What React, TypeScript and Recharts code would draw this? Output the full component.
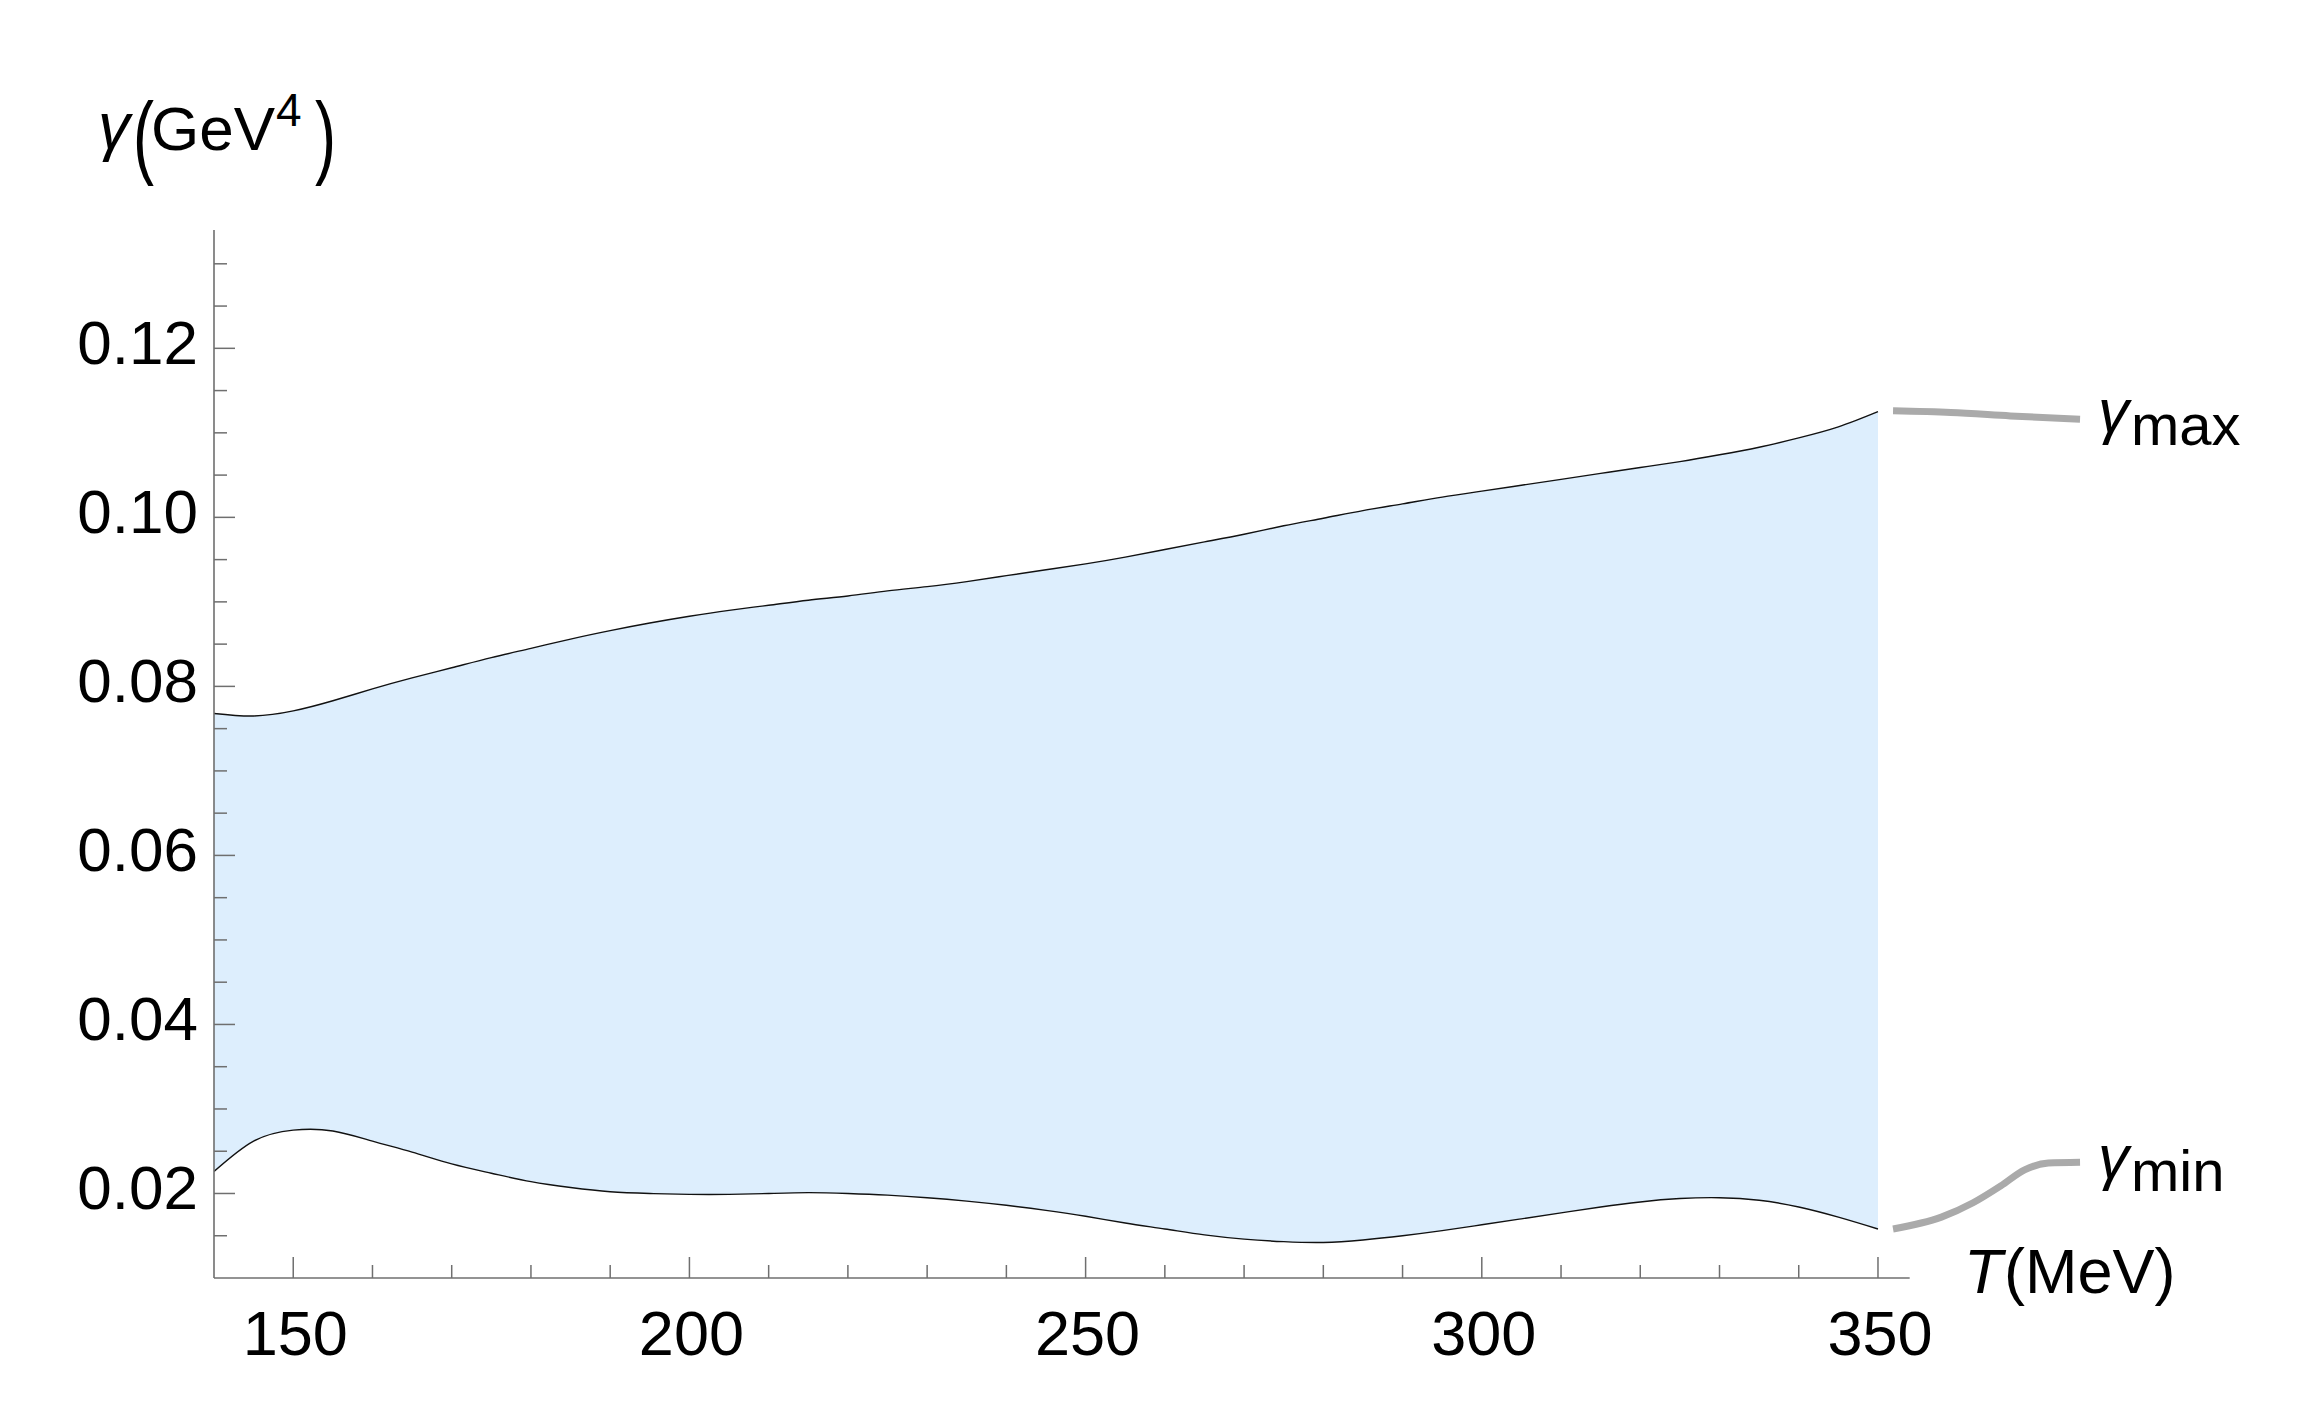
import React from "react";
import { ComposedChart, Area, Line, XAxis, YAxis, ReferenceLine } from "recharts";

// T in MeV
const temps = [
  140, 145, 150, 155, 160, 165, 170, 175, 180, 185, 190, 195, 200, 205, 210, 215, 220, 225, 230, 235, 240,
  245, 250, 255, 260, 265, 270, 275, 280, 285, 290, 295, 300, 305, 310, 315, 320, 325, 330, 335, 340, 345, 350,
];
// gamma (GeV^4), lower edge of the band
const gammaMin = [
  0.0226, 0.0262, 0.0275, 0.0274, 0.0262, 0.0249, 0.0235, 0.0224, 0.0214, 0.0207, 0.0202, 0.02, 0.0199,
  0.0199, 0.02, 0.0201, 0.02, 0.0198, 0.0195, 0.0191, 0.0186, 0.018, 0.0173, 0.0165, 0.0158, 0.0151, 0.0146,
  0.0143, 0.0142, 0.0145, 0.015, 0.0156, 0.0163, 0.017, 0.0177, 0.0184, 0.019, 0.0194, 0.0195, 0.0192, 0.0184,
  0.0172, 0.0158,
];
// upper edge of the band
const gammaMax = [
  0.0768, 0.0765, 0.0771, 0.0783, 0.0797, 0.081, 0.0822, 0.0834, 0.0845, 0.0856, 0.0866, 0.0875, 0.0883,
  0.089, 0.0896, 0.0902, 0.0907, 0.0913, 0.0918, 0.0924, 0.0931, 0.0938, 0.0945, 0.0953, 0.0962, 0.0971,
  0.098, 0.099, 0.0999, 0.1008, 0.1016, 0.1024, 0.1031, 0.1038, 0.1045, 0.1052, 0.1059, 0.1066, 0.1074,
  0.1083, 0.1094, 0.1107, 0.1125,
];

// label leaders (gray)
const leadMaxT = [351.9, 359.2, 366.7, 375.5];
const leadMaxY = [0.1126, 0.1124, 0.112, 0.1116];
const leadMinT = [351.9, 358, 362, 365.5, 368.5, 371.5, 375.5];
const leadMinY = [0.0158, 0.0172, 0.0189, 0.0209, 0.0228, 0.0236, 0.0237];

const xTicks = [150, 160, 170, 180, 190, 200, 210, 220, 230, 240, 250, 260, 270, 280, 290, 300, 310, 320, 330, 340, 350];
const xMajorTicks = [150, 200, 250, 300, 350];
const yTicks = [
  0.015, 0.02, 0.025, 0.03, 0.035, 0.04, 0.045, 0.05, 0.055, 0.06, 0.065, 0.07, 0.075, 0.08, 0.085, 0.09, 0.095,
  0.1, 0.105, 0.11, 0.115, 0.12, 0.125, 0.13,
];
const yMajorTicks = [0.02, 0.04, 0.06, 0.08, 0.1, 0.12];

const bandData = temps.map((T, i) => ({ T, band: [gammaMin[i], gammaMax[i]] }));
const leadMax = leadMaxT.map((T, i) => ({ T, y: leadMaxY[i] }));
const leadMin = leadMinT.map((T, i) => ({ T, y: leadMinY[i] }));

const FONT = "'Liberation Sans', Arial, sans-serif";
const AXIS = "#6f6f6f";
const PLOT_LEFT = 214;
const PLOT_BOTTOM = 1278;

const yMajorSet = new Set(yMajorTicks.map((v) => v.toFixed(3)));
const xMajorSet = new Set(xMajorTicks);

function YTick(props: any) {
  const { y, payload } = props;
  const major = yMajorSet.has(Number(payload.value).toFixed(3));
  return (
    <g>
      <line x1={PLOT_LEFT} x2={PLOT_LEFT + (major ? 21 : 13)} y1={y} y2={y} stroke={AXIS} strokeWidth={1.5} />
      {major && (
        <text x={198} y={y + 15.7} textAnchor="end" fontFamily={FONT} fontSize={62} fill="#000">
          {Number(payload.value).toFixed(2)}
        </text>
      )}
    </g>
  );
}

function XTick(props: any) {
  const { x, payload } = props;
  const major = xMajorSet.has(payload.value);
  return (
    <g>
      <line x1={x} x2={x} y1={PLOT_BOTTOM} y2={PLOT_BOTTOM - (major ? 21 : 13)} stroke={AXIS} strokeWidth={1.5} />
      {major && (
        <text x={x + 2} y={1355} textAnchor="middle" fontFamily={FONT} fontSize={63} fill="#000">
          {payload.value}
        </text>
      )}
    </g>
  );
}

export default function App() {
  return (
    <div style={{ position: "absolute", left: 0, top: 0, width: 2309, height: 1411, background: "#fff" }}>
      <ComposedChart
        width={2309}
        height={1411}
        data={bandData}
        margin={{ top: 230, right: 225, left: 0, bottom: 0 }}
      >
        <XAxis
          dataKey="T"
          type="number"
          domain={[140, 376]}
          allowDataOverflow
          ticks={xTicks}
          interval={0}
          tick={<XTick />}
          tickLine={false}
          axisLine={false}
          height={133}
        />
        <YAxis
          type="number"
          domain={[0.01, 0.134]}
          allowDataOverflow
          ticks={yTicks}
          interval={0}
          tick={<YTick />}
          tickLine={false}
          axisLine={{ stroke: AXIS, strokeWidth: 1.6 }}
          width={214}
        />
        <Area
          dataKey="band"
          type="natural"
          fill="#ddeefd"
          fillOpacity={1}
          stroke="#111"
          strokeWidth={1.4}
          dot={false}
          activeDot={false}
          isAnimationActive={false}
        />
        <ReferenceLine
          segment={[{ x: 140, y: 0.01 }, { x: 354, y: 0.01 }]}
          stroke={AXIS}
          strokeWidth={1.6}
          ifOverflow="visible"
        />
        <Line
          data={leadMax}
          dataKey="y"
          type="natural"
          stroke="#aaaaaa"
          strokeWidth={7}
          dot={false}
          activeDot={false}
          isAnimationActive={false}
        />
        <Line
          data={leadMin}
          dataKey="y"
          type="monotone"
          stroke="#aaaaaa"
          strokeWidth={7}
          dot={false}
          activeDot={false}
          isAnimationActive={false}
        />
      </ComposedChart>
      <svg
        width={2309}
        height={1411}
        style={{ position: "absolute", left: 0, top: 0, pointerEvents: "none" }}
      >
        <g fontFamily={FONT} fill="#000">
          <text x={98} y={148} fontSize={64} fontStyle="italic">γ</text>
          <text transform="translate(133,167) scale(1,1.47)" fontSize={63}>(</text>
          <text x={151} y={150} fontSize={62}>GeV</text>
          <text x={276} y={126} fontSize={46}>4</text>
          <text transform="translate(315,167) scale(1,1.47)" fontSize={63}>)</text>

          <text x={1964} y={1293} fontSize={63} fontStyle="italic">T</text>
          <text x={2004} y={1293} fontSize={63}>(MeV)</text>

          <text x={2098} y={432} fontSize={62} fontStyle="italic">γ</text>
          <text x={2131} y={445} fontSize={58}>max</text>
          <text x={2098} y={1178} fontSize={62} fontStyle="italic">γ</text>
          <text x={2131} y={1191} fontSize={58}>min</text>
        </g>
      </svg>
    </div>
  );
}
